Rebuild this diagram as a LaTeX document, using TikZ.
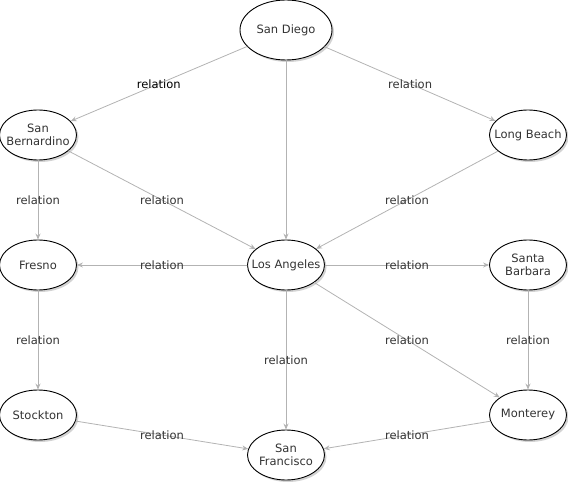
\documentclass[tikz,border=0pt]{standalone}
\usepackage{fontspec}
\setmainfont{DejaVu Sans}
\usetikzlibrary{arrows.meta,shapes.geometric,shadows}
\definecolor{edgegray}{HTML}{B3B3B3}
\definecolor{textgray}{HTML}{333333}
\begin{document}
\begin{tikzpicture}[x=1pt, y=-1pt, font=\fontsize{11.5}{13}\selectfont, line join=round, line cap=round,
		>={Stealth[length=6pt,width=5pt]},
		city/.style={ellipse, draw=black, fill=white, line width=0.9pt, text=textgray, align=center,
			inner xsep=-10pt, inner ysep=0pt, minimum width=77pt, minimum height=50pt,
			drop shadow={shadow xshift=2pt, shadow yshift=-2pt, opacity=0.35, fill=gray}},
		rel/.style={->, draw=edgegray, line width=0.8pt},
		lbl/.style={midway, text=textgray, inner sep=1pt}]
	\useasboundingbox (0,0) rectangle (568,484);
	% cities
	\node[city, minimum width=92pt, minimum height=60pt] (sandiego) at (286,30) {San Diego};
	\node[city] (sanbernardino) at (38,135) {San\\Bernardino};
	\node[city] (longbeach) at (528,135) {Long Beach};
	\node[city] (fresno) at (38,265) {Fresno};
	\node[city] (losangeles) at (286,265) {Los Angeles};
	\node[city] (santabarbara) at (528,265) {Santa\\Barbara};
	\node[city] (stockton) at (38,415) {Stockton};
	\node[city] (monterey) at (528,415) {Monterey};
	\node[city] (sanfrancisco) at (286,455) {San\\Francisco};
	% relations
	\draw[rel] (sandiego) -- (sanbernardino) node[lbl, text=black]{relation};
	\draw[rel] (sandiego) -- (longbeach) node[lbl]{relation};
	\draw[rel] (sandiego) -- (losangeles);
	\draw[rel] (sanbernardino) -- (fresno) node[lbl]{relation};
	\draw[rel] (sanbernardino) -- (losangeles) node[lbl]{relation};
	\draw[rel] (longbeach) -- (losangeles) node[lbl]{relation};
	\draw[rel] (losangeles) -- (fresno) node[lbl]{relation};
	\draw[rel] (losangeles) -- (santabarbara) node[lbl]{relation};
	\draw[rel] (fresno) -- (stockton) node[lbl]{relation};
	\draw[rel] (losangeles) -- (sanfrancisco) node[lbl]{relation};
	\draw[rel] (losangeles) -- (monterey) node[lbl]{relation};
	\draw[rel] (santabarbara) -- (monterey) node[lbl]{relation};
	\draw[rel] (stockton) -- (sanfrancisco) node[lbl]{relation};
	\draw[rel] (monterey) -- (sanfrancisco) node[lbl]{relation};
\end{tikzpicture}
\end{document}
